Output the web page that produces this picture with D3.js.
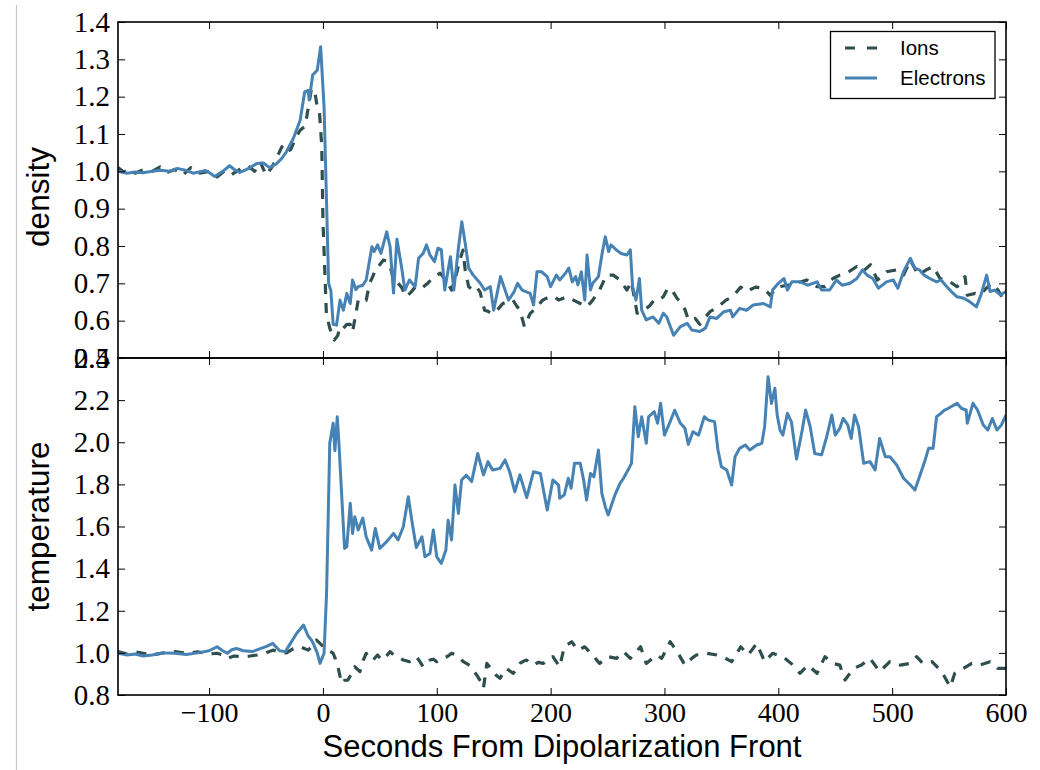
<!DOCTYPE html>
<html>
<head>
<meta charset="utf-8">
<script src="https://cdn.jsdelivr.net/npm/d3@7"></script>
<style>
  html, body { margin: 0; padding: 0; background: #fff; }
  svg { display: block; }
</style>
</head>
<body>
<svg id="chart" width="1040" height="770"></svg>
<script>
// ---------------- DATA ----------------
const xTicks = [-100, 0, 100, 200, 300, 400, 500, 600];
const densityTicks = [0.5, 0.6, 0.7, 0.8, 0.9, 1.0, 1.1, 1.2, 1.3, 1.4];
const temperatureTicks = [0.8, 1.0, 1.2, 1.4, 1.6, 1.8, 2.0, 2.2, 2.4];
const seriesNames = ["Ions", "Electrons"];

// Electron density
const elecDensTime = [-180,-172,-165,-158,-150,-142,-135,-128,-121,-114,-108,-103,-99,-95,-88,-82,-77,-73,-65,-58,-52,-47,-41,-36,-32,-26,-20,-16,-13,-12,-9,-5,-2,1,3,5,7,9,12,15,18,21,24,26,29,31,35,38,43,45,48,51,56,59,62,65,69,72,76,81,84,88,91,94,98,101,104,107,112,115,119,122,125,128,132,138,142,147,150,153,156,159,163,168,171,175,182,185,188,192,197,200,205,208,213,216,219,222,224,227,230,232,235,237,242,245,248,251,253,258,262,267,270,272,275,278,280,284,290,295,299,302,308,314,320,324,331,336,340,346,352,358,360,366,372,378,387,393,395,400,405,408,412,419,426,434,438,445,451,456,463,469,474,478,483,488,495,501,505,510,516,520,524,528,533,539,543,548,552,557,563,568,574,578,583,586,590,595,600];
const elecDens = [1.0,0.995,0.998,0.996,1.0,1.003,1.0,1.008,1.003,0.995,0.999,1.002,0.995,0.986,1.0,1.015,1.003,0.997,1.008,1.021,1.022,1.01,1.02,1.035,1.053,1.088,1.137,1.213,1.217,1.191,1.258,1.271,1.334,1.173,0.94,0.70,0.68,0.59,0.588,0.655,0.628,0.673,0.646,0.709,0.683,0.691,0.695,0.709,0.798,0.785,0.803,0.78,0.838,0.798,0.674,0.818,0.745,0.682,0.709,0.691,0.767,0.78,0.803,0.776,0.758,0.794,0.79,0.682,0.771,0.682,0.794,0.865,0.807,0.741,0.722,0.701,0.682,0.691,0.628,0.673,0.718,0.691,0.655,0.678,0.7,0.682,0.673,0.642,0.731,0.731,0.718,0.691,0.722,0.709,0.727,0.741,0.704,0.718,0.696,0.731,0.655,0.776,0.682,0.7,0.718,0.776,0.825,0.785,0.803,0.789,0.78,0.776,0.79,0.691,0.655,0.713,0.628,0.602,0.61,0.593,0.62,0.61,0.561,0.584,0.593,0.575,0.571,0.58,0.61,0.606,0.624,0.628,0.61,0.633,0.628,0.642,0.646,0.637,0.682,0.7,0.713,0.682,0.704,0.704,0.695,0.704,0.682,0.682,0.709,0.695,0.7,0.713,0.736,0.722,0.713,0.687,0.704,0.709,0.687,0.731,0.767,0.74,0.736,0.722,0.713,0.704,0.709,0.691,0.678,0.664,0.66,0.651,0.637,0.669,0.722,0.678,0.682,0.669,0.678];

// Ion density
const ionDensTime = [-180,-175,-170,-165,-158,-150,-143,-136,-130,-123,-116,-108,-100,-93,-86,-80,-73,-66,-60,-55,-50,-45,-40,-36,-32,-28,-24,-20,-16,-14,-10,-7,-5,-3,-1,0,3,6,10,13,15,18,21,24,26,29,31,35,38,41,44,47,50,53,56,59,63,66,69,73,77,81,85,88,92,95,99,103,108,113,117,120,123,125,128,132,135,138,142,145,148,153,158,162,167,170,173,177,182,188,193,199,203,207,211,214,220,226,232,237,243,249,255,261,267,271,276,282,287,291,295,299,303,307,311,315,318,321,327,331,336,340,347,354,360,367,372,380,387,393,399,408,416,425,434,441,448,454,460,469,474,481,487,495,504,510,516,523,530,536,542,549,557,564,566,573,577,587,593,598,600];
const ionDens = [1.01,0.998,1.006,0.995,1.004,1.0,1.012,0.998,1.005,0.99,1.01,0.995,1.0,0.985,1.002,0.992,1.005,1.015,1.0,1.025,0.99,1.01,1.04,1.066,1.05,1.06,1.09,1.11,1.12,1.15,1.222,1.21,1.173,1.157,1.066,0.87,0.62,0.58,0.548,0.56,0.584,0.58,0.59,0.59,0.57,0.62,0.655,0.66,0.655,0.7,0.72,0.745,0.75,0.762,0.76,0.745,0.7,0.7,0.69,0.664,0.675,0.69,0.685,0.69,0.7,0.71,0.72,0.727,0.709,0.682,0.722,0.76,0.789,0.735,0.691,0.682,0.69,0.677,0.628,0.625,0.619,0.628,0.646,0.65,0.655,0.64,0.628,0.584,0.619,0.637,0.655,0.664,0.665,0.655,0.66,0.664,0.655,0.646,0.637,0.655,0.682,0.722,0.722,0.709,0.682,0.704,0.62,0.628,0.64,0.655,0.655,0.664,0.687,0.68,0.66,0.647,0.63,0.602,0.606,0.59,0.61,0.624,0.637,0.655,0.664,0.69,0.678,0.69,0.687,0.668,0.69,0.695,0.7,0.709,0.691,0.691,0.713,0.722,0.727,0.745,0.731,0.75,0.709,0.731,0.736,0.722,0.762,0.722,0.736,0.745,0.713,0.708,0.691,0.718,0.668,0.673,0.669,0.7,0.682,0.655,0.664];

// Electron temperature
const elecTempTime = [-180,-172,-165,-158,-150,-140,-130,-120,-110,-100,-93,-88,-84,-80,-76,-70,-62,-55,-50,-44,-38,-33,-28,-23,-17,-13,-10,-8.5,-5,-2.6,1,3.2,6,9,10.5,12.6,14,16.4,19,21,24,26,28,31,35,38,42.8,46,50,56,62,66,70.6,75,78,82,87,89.6,94,97,100,104,108,110,113,116,119,121.8,126,130.6,136,141,145,149,155.5,160,164,168.5,173,179,185,191,197,202,207,208,212,215.5,218,221,226,229,231.6,235,238,242,245,248,250.6,254,256.5,261,264,268,271,274,277,280,284,286,291,294,296.6,300,305,309,314,318,321,325,330,335,338.5,344,347,350,354.7,359,362,366,371,375,381,385.5,388,391,394,397,399,401.5,404,408,411.5,416,421,424,428,432,438,442.5,447,450,454,457,461,464,467,470.5,475,480.5,485,489,494,498,504,510,516,520,524,529,532,536,539,541,546,549,557,561,565,566,571,575,580,584,588,592,596,600];
const elecTemp = [0.998,0.99,0.995,0.985,0.99,1.0,0.998,0.992,1.0,1.01,1.029,1.01,0.998,1.015,1.021,1.01,1.006,1.02,1.03,1.045,1.01,1.006,1.05,1.093,1.132,1.08,1.06,1.045,1.0,0.95,0.998,1.283,1.995,2.09,1.96,2.121,2.0,1.758,1.496,1.504,1.71,1.567,1.646,1.583,1.64,1.551,1.488,1.591,1.496,1.528,1.567,1.536,1.599,1.741,1.631,1.5,1.551,1.456,1.472,1.583,1.456,1.425,1.488,1.63,1.536,1.797,1.662,1.821,1.844,1.813,1.947,1.845,1.908,1.868,1.876,1.916,1.86,1.765,1.845,1.737,1.86,1.852,1.678,1.821,1.797,1.734,1.75,1.829,1.781,1.9,1.9,1.821,1.726,1.852,1.836,1.963,1.757,1.694,1.655,1.71,1.75,1.805,1.829,1.868,1.9,2.169,2.026,2.121,1.995,2.121,2.145,2.09,2.185,2.034,2.098,2.152,2.09,2.066,1.99,2.05,2.034,2.121,2.105,2.098,1.963,1.884,1.868,1.797,1.931,1.971,1.987,1.963,1.987,1.995,2.074,2.311,2.184,2.256,2.129,2.058,2.034,2.137,2.097,1.92,2.058,2.153,2.074,1.947,1.94,2.026,2.129,2.034,2.066,2.113,2.082,2.018,2.129,2.074,1.9,1.908,1.868,2.018,1.931,1.931,1.892,1.829,1.797,1.773,1.836,1.916,1.971,1.971,2.121,2.129,2.153,2.16,2.185,2.16,2.153,2.09,2.185,2.153,2.082,2.058,2.113,2.058,2.082,2.129];

// Ion temperature
const ionTempTime = [-180,-172,-165,-158,-150,-140,-130,-120,-110,-100,-93,-88,-84,-78,-71,-64,-58,-50,-44,-38,-32,-26,-20,-13,-8,-5.6,-1,2,5,9,11,13.5,16.4,19,22,25,28,32.5,35,38,41,44,48,51.5,55,59,62,65,70.6,76,79,82,85,88,91,94,97,100,103,106,110,113,117,120,123,126,129,132,136,139,141,144,147,150,153,155.5,158,161,164,167,170,173,176,179,182,185,189,193.5,198,202,208,212,218.5,224,230,238,243,250.6,258,264,270,279,284,293,297.6,305,312,318,324,328,337,346,351,359,367,373.6,381,388,395,404,413,419,426,434,441,448,454,458.6,466,473,480.5,489,498,507,516,521.5,527,535,543.5,551,555,562.6,570,577,586,593,600];
const ionTemp = [1.006,0.995,1.005,0.998,0.99,1.0,1.006,0.998,1.005,0.995,0.998,0.99,0.974,0.985,0.982,0.985,0.99,1.0,1.013,1.005,1.0,1.02,1.029,1.013,1.04,1.061,1.037,1.02,1.013,0.998,0.97,0.926,0.855,0.87,0.871,0.9,0.934,0.911,0.96,0.998,0.97,0.966,0.99,0.966,0.98,1.006,0.99,0.982,0.966,0.958,0.97,0.982,0.96,0.934,0.95,0.966,0.97,0.958,0.97,0.974,0.985,0.998,0.99,0.974,0.96,0.95,0.94,0.919,0.887,0.86,0.832,0.95,0.93,0.903,0.89,0.879,0.9,0.926,0.915,0.903,0.92,0.95,0.96,0.966,0.95,0.942,0.955,0.95,0.97,0.982,0.934,1.029,1.053,1.013,1.029,0.982,0.95,0.982,0.974,1.006,0.974,1.029,0.95,0.99,0.974,1.053,0.998,0.942,0.974,0.99,0.998,0.99,0.982,0.958,1.029,0.99,1.045,0.958,0.998,0.982,0.942,0.903,0.942,0.903,0.982,0.95,0.942,0.871,0.926,0.942,0.974,0.911,0.958,0.942,0.95,0.982,0.95,0.958,0.911,0.838,0.903,0.926,0.95,0.942,0.958,0.926,0.926];

// ---------------- CHART ----------------
const svg = d3.select("#chart");
const L = 118, R = 1006, T = 22, M = 358, B = 695;
const serif = "'Liberation Serif', 'Times New Roman', serif";
const sans = "'Liberation Sans', Arial, Helvetica, sans-serif";
const ionColor = "#2f4f4f", elecColor = "#4682b4";

svg.append("rect").attr("width", 1040).attr("height", 770).attr("fill", "#fff");
// thin page-edge line
svg.append("line").attr("x1", 16.5).attr("x2", 16.5).attr("y1", 5).attr("y2", 770)
  .attr("stroke", "#c8c8c8").attr("stroke-width", 1.2);

const x = d3.scaleLinear().domain([-180, 600]).range([L, R]);
const yD = d3.scaleLinear().domain([0.5, 1.4]).range([M, T]);
const yT = d3.scaleLinear().domain([0.8, 2.4]).range([B, M]);

const defs = svg.append("defs");
defs.append("clipPath").attr("id", "clipTop").append("rect")
  .attr("x", L).attr("y", T).attr("width", R - L).attr("height", M - T);
defs.append("clipPath").attr("id", "clipBot").append("rect")
  .attr("x", L).attr("y", M).attr("width", R - L).attr("height", B - M);

function zip(ts, vs) { return ts.map((t, i) => [t, vs[i]]); }

function panel(y, yTicks, clipId, ionT, ionV, elT, elV, top, bot, showX) {
  const g = svg.append("g");
  const lines = g.append("g").attr("clip-path", `url(#${clipId})`);
  const line = d3.line().x(d => x(d[0])).y(d => y(d[1]));
  lines.append("path").datum(zip(ionT, ionV)).attr("d", line)
    .attr("fill", "none").attr("stroke", ionColor).attr("stroke-width", 3.2)
    .attr("stroke-dasharray", "10,9").attr("stroke-linejoin", "round");
  lines.append("path").datum(zip(elT, elV)).attr("d", line)
    .attr("fill", "none").attr("stroke", elecColor).attr("stroke-width", 3)
    .attr("stroke-linejoin", "round");

  const fmt = d3.format(".1f");
  const axL = g.append("g").attr("transform", `translate(${L},0)`)
    .call(d3.axisLeft(y).tickValues(yTicks).tickSizeInner(-7).tickSizeOuter(0).tickPadding(8).tickFormat(fmt));
  const axR = g.append("g").attr("transform", `translate(${R},0)`)
    .call(d3.axisRight(y).tickValues(yTicks).tickSizeInner(-7).tickSizeOuter(0).tickFormat(""));
  const axT = g.append("g").attr("transform", `translate(0,${top})`)
    .call(d3.axisTop(x).tickValues(xTicks).tickSizeInner(-7).tickSizeOuter(0).tickFormat(""));
  const axB = g.append("g").attr("transform", `translate(0,${bot})`)
    .call(d3.axisBottom(x).tickValues(xTicks).tickSizeInner(-7).tickSizeOuter(0).tickPadding(7)
      .tickFormat(showX ? d3.format("") : ""));
  [axL, axR, axT, axB].forEach(a => {
    a.select(".domain").remove();
    a.selectAll(".tick line").attr("stroke", "#000").attr("stroke-width", 1);
    a.selectAll("text").attr("font-family", serif).attr("font-size", 29).attr("fill", "#000");
  });
  axB.selectAll("text").attr("font-size", 28);
  g.append("rect").attr("x", L).attr("y", top).attr("width", R - L).attr("height", bot - top)
    .attr("fill", "none").attr("stroke", "#000").attr("stroke-width", 1.6);
}

panel(yD, densityTicks, "clipTop", ionDensTime, ionDens, elecDensTime, elecDens, T, M, false);
panel(yT, temperatureTicks, "clipBot", ionTempTime, ionTemp, elecTempTime, elecTemp, M, B, true);

// axis labels
svg.append("text").attr("x", (L + R) / 2).attr("y", 757).attr("text-anchor", "middle")
  .attr("font-family", sans).attr("font-size", 31).attr("fill", "#000")
  .text("Seconds From Dipolarization Front");
svg.append("text").attr("transform", `translate(49,${(T + M) / 2 + 7}) rotate(-90)`)
  .attr("text-anchor", "middle").attr("font-family", sans).attr("font-size", 31.5).attr("fill", "#000")
  .text("density");
svg.append("text").attr("transform", `translate(49,${(M + B) / 2}) rotate(-90)`)
  .attr("text-anchor", "middle").attr("font-family", sans).attr("font-size", 31.5).attr("fill", "#000")
  .text("temperature");

// legend
const lg = svg.append("g");
lg.append("rect").attr("x", 830.5).attr("y", 31.5).attr("width", 164.5).attr("height", 67)
  .attr("fill", "#fff").attr("stroke", "#000").attr("stroke-width", 1.3);
const legendItems = [
  { name: seriesNames[0], color: ionColor, dash: "10,12", w: 3.2, y: 48 },
  { name: seriesNames[1], color: elecColor, dash: null, w: 3, y: 78 }
];
legendItems.forEach(d => {
  lg.append("line").attr("x1", 845).attr("x2", 877).attr("y1", d.y).attr("y2", d.y)
    .attr("stroke", d.color).attr("stroke-width", d.w).attr("stroke-dasharray", d.dash);
  lg.append("text").attr("x", 900).attr("y", d.y).attr("dy", "0.35em")
    .attr("font-family", sans).attr("font-size", 20.5).attr("fill", "#000").text(d.name);
});
</script>
</body>
</html>
